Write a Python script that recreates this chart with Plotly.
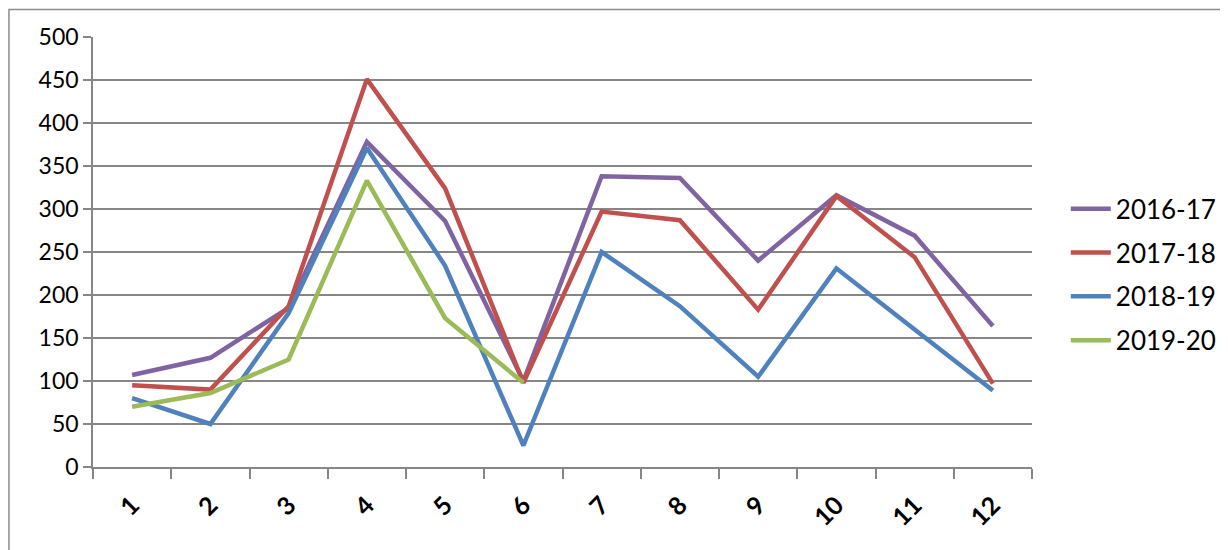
import plotly.graph_objects as go

months = ['1', '2', '3', '4', '5', '6', '7', '8', '9', '10', '11', '12']

s2016_17 = [107, 127, 185, 378, 286, 100, 338, 336, 240, 316, 269, 164]
s2017_18 = [95, 90, 187, 451, 324, 98, 297, 287, 183, 315, 244, 97]
s2018_19 = [80, 50, 179, 371, 234, 25, 250, 187, 105, 231, 160, 89]
s2019_20 = [70, 86, 125, 333, 173, 98]

series = [
    ('2016-17', s2016_17, '#8064A2'),
    ('2017-18', s2017_18, '#C0504D'),
    ('2018-19', s2018_19, '#4F81BD'),
    ('2019-20', s2019_20, '#9BBB59'),
]

fig = go.Figure()
for name, vals, col in series:
    fig.add_trace(go.Scatter(
        x=months[:len(vals)], y=vals, name=name, mode='lines',
        line=dict(color=col, width=4.5), legendgroup=name))

grid = '#868686'
fig.update_layout(
    width=1228, height=550,
    margin=dict(l=85, r=204, t=29, b=91),
    paper_bgcolor='white', plot_bgcolor='white',
    font=dict(family='Lato, Liberation Sans, sans-serif', color='black'),
    showlegend=True,
    legend=dict(x=1.036, y=0.655, xanchor='left', yanchor='top',
                font=dict(size=26), tracegroupgap=7,
                traceorder='grouped', itemwidth=40),
    # outer chart frame (only top and left edges fall inside the window)
    shapes=[dict(type='rect', xref='paper', yref='paper',
                 x0=-0.0895, x1=1.4, y0=-0.4, y1=1.064,
                 line=dict(color='#8C8C8C', width=1.5), layer='below')],
)
fig.update_xaxes(
    type='category', range=[-0.5, 11.5],
    showgrid=False, showline=True, linecolor=grid, linewidth=1.5,
    ticks='outside', tickson='boundaries', ticklen=10, tickcolor=grid,
    tickwidth=1.5, tickangle=-45, ticklabelstandoff=12,
    tickfont=dict(size=25, family='Lato, sans-serif', weight='bold'),
)
fig.update_yaxes(
    range=[0, 500], dtick=50, showgrid=True, gridcolor=grid, gridwidth=1.5,
    zeroline=False, showline=True, linecolor=grid, linewidth=1.5,
    ticks='outside', ticklen=8, tickcolor=grid, tickwidth=1.5,
    tickfont=dict(size=23),
)
fig.write_html("out.html")
